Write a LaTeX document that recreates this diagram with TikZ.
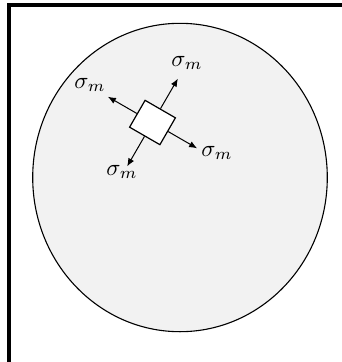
\documentclass[tikz,border=0pt]{standalone}
\usetikzlibrary{arrows.meta}
\definecolor{disk}{HTML}{F2F2F2}
\tikzset{
  force/.style={line width=1bp, -{Latex[length=8bp,width=6.5bp]}},
  lab/.style={inner sep=0pt, scale=2.35, transform shape},
  elem/.style={draw, fill=white, line width=1.2bp, inner sep=0pt,
    minimum width=35bp, minimum height=31bp, rotate=-30}
}
\begin{document}
\begin{tikzpicture}[x=1bp,y=-1bp]
\useasboundingbox (0,0) rectangle (342,362);
% frame (left and top only)
\fill[black] (7.3,3.3) rectangle (342,6.7);
\fill[black] (7.3,3.3) rectangle (10.5,362);
% disk
\draw[fill=disk, line width=1.1bp] (180,177.5) ellipse [x radius=147.3, y radius=154.2];
% element
\node[elem] (sq) at (152.5,122.5) {};
\coordinate (tn) at (177.9,78.6);
\coordinate (te) at (197.1,148.3);
\coordinate (tw) at (107.9,96.75);
\coordinate (ts) at (127.15,166.4);
\draw[force] (sq.north) -- (tn);
\draw[force] (sq.east) -- (te);
\draw[force] (sq.west) -- (tw);
\draw[force] (sq.south) -- (ts);
% labels
\node[lab] (ln) at (187,63) {$\sigma_m$};
\node[lab] (lw) at (90,85) {$\sigma_m$};
\node[lab] (le) at (217,153) {$\sigma_m$};
\node[lab] (ls) at (122,172) {$\sigma_m$};
\end{tikzpicture}
\end{document}
